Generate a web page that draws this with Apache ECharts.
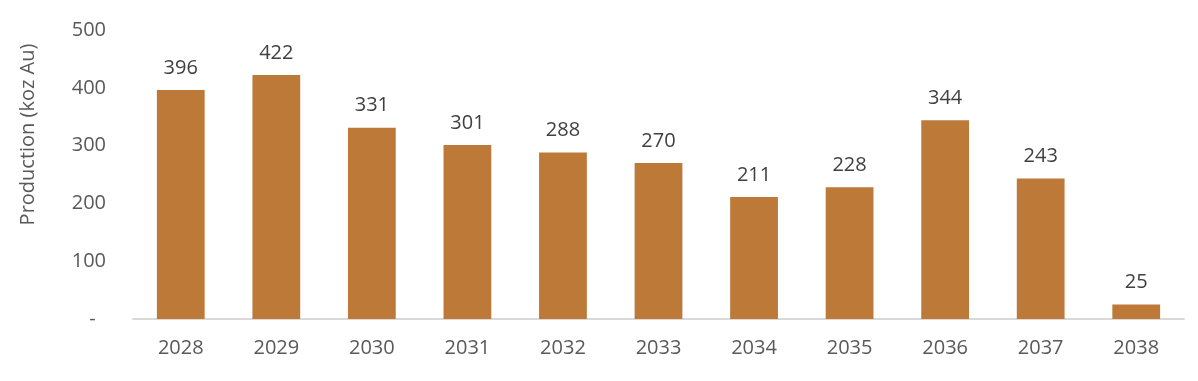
<!DOCTYPE html>
<html><head><meta charset="utf-8">
<script src="https://cdn.jsdelivr.net/npm/echarts@6/dist/echarts.min.js"></script>
<style>html,body{margin:0;padding:0;background:#fff}#c{width:1198px;height:381px}</style>
</head><body><div id="c"></div>
<script>
const categories = ['2028','2029','2030','2031','2032','2033','2034','2035','2036','2037','2038'];
const production = [396, 422, 331, 301, 288, 270, 211, 228, 344, 243, 25];
const yAxisName = 'Production (koz Au)';

const chart = echarts.init(document.getElementById('c'));
chart.setOption({
  animation: false,
  grid: { left: 133, right: 14, top: 30, bottom: 62, containLabel: false },
  xAxis: {
    type: 'category', data: categories,
    axisLine: { lineStyle: { color: '#D9D9D9', width: 2 } },
    axisTick: { show: false },
    axisLabel: { color: '#595959', fontSize: 20, fontFamily: 'Open Sans', margin: 19 }
  },
  yAxis: {
    type: 'value', min: 0, max: 500, interval: 100,
    name: yAxisName, nameLocation: 'middle', nameGap: 95, nameRotate: 90,
    nameTextStyle: { color: '#595959', fontSize: 20, fontFamily: 'Open Sans', padding: [0, 0, 0, 80] },
    splitLine: { show: false },
    axisLine: { show: false }, axisTick: { show: false },
    axisLabel: { color: '#595959', fontSize: 20, fontFamily: 'Open Sans', margin: 27,
      formatter: v => v === 0 ? '-  ' : String(v) }
  },
  series: [{
    type: 'bar', data: production, barWidth: '50%',
    itemStyle: { color: '#BC7938' },
    label: { show: true, position: 'top', distance: 12, color: '#404040', fontSize: 20, fontFamily: 'Open Sans' }
  }]
});
</script></body></html>
